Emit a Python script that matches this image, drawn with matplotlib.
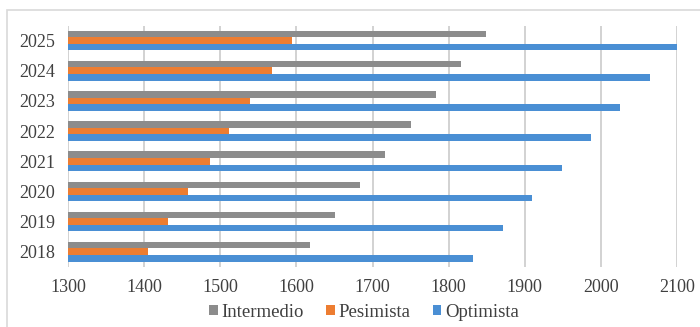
import numpy as np
import matplotlib
matplotlib.use("Agg")
import matplotlib.pyplot as plt
from matplotlib.patches import Rectangle

# datos
years = ['2018', '2019', '2020', '2021', '2022', '2023', '2024', '2025']
intermedio = [1618, 1651, 1684, 1717, 1750, 1783, 1816, 1849]
pesimista = [1405, 1432, 1458, 1486, 1512, 1539, 1568, 1594]
optimista = [1832, 1872, 1910, 1949, 1987, 2025, 2064, 2100]

plt.rcParams['font.family'] = ['Liberation Serif', 'DejaVu Serif']

fig = plt.figure(figsize=(7, 3.27), dpi=100)
fig.patches.append(Rectangle((7 / 700, -0.1), 1.0, 1 - 10 / 327 + 0.1, transform=fig.transFigure,
                             fill=False, edgecolor='#d9d9d9', linewidth=1.2))
ax = fig.add_axes([68 / 700, 0.184, 609 / 700, 0.738])

y = np.arange(len(years))
h = 0.218
base = 1300
ax.barh(y + h, np.array(intermedio) - base, h, left=base, color='#8c8c8c', label='Intermedio')
ax.barh(y, np.array(pesimista) - base, h, left=base, color='#ed7d31', label='Pesimista')
ax.barh(y - h, np.array(optimista) - base, h, left=base, color='#4a8fd4', label='Optimista')

ax.set_xlim(1300, 2100)
ax.set_ylim(-0.5, len(years) - 0.5)
ax.set_yticks(y)
ax.set_yticklabels(years)
ax.set_xticks(np.arange(1300, 2101, 100))
ax.tick_params(length=0, labelsize=13, colors='#404040')
ax.tick_params(axis='x', pad=9)
ax.tick_params(axis='y', pad=9)
ax.grid(axis='x', color='#cfcfcf', linewidth=1.3)
ax.set_axisbelow(True)
for s in ax.spines.values():
    s.set_visible(False)

fig.legend(loc='center', bbox_to_anchor=(364 / 700, 0.044), ncol=3, frameon=False,
           fontsize=13.5, handlelength=0.45, handleheight=0.45, handletextpad=0.2,
           columnspacing=1.2, labelcolor='#404040')

fig.savefig('out.png', dpi=100)
